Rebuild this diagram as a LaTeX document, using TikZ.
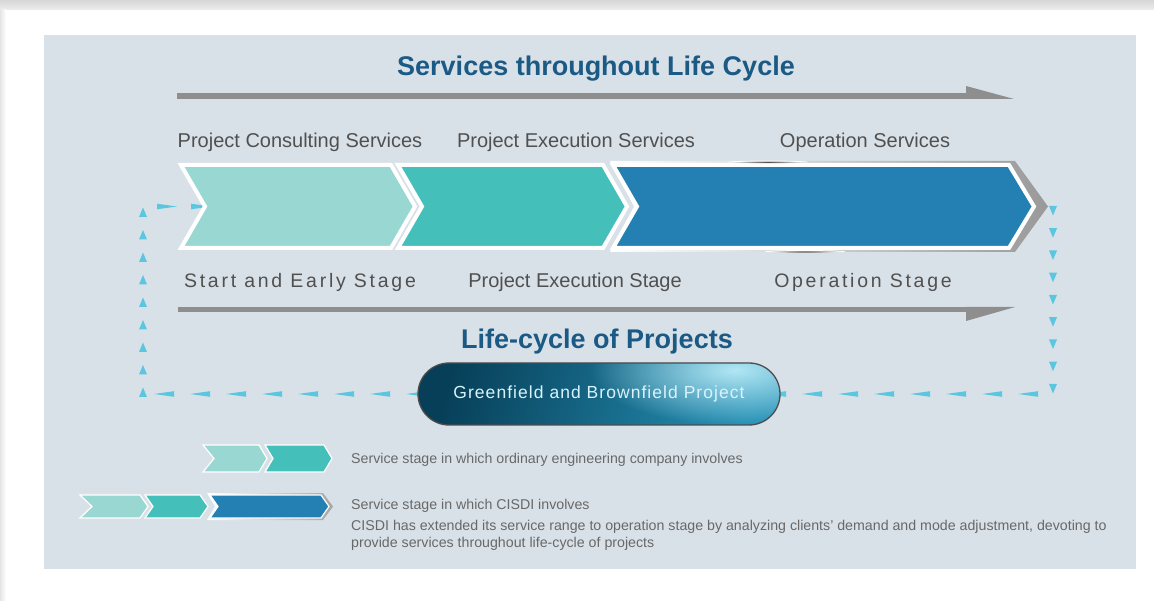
\documentclass[tikz,border=0pt]{standalone}
\usepackage{fontspec}
\setmainfont{Liberation Sans}
\newfontfamily\spacedfont[LetterSpace=14]{Liberation Sans}
\newfontfamily\pillfont[LetterSpace=6]{Liberation Sans}
\usetikzlibrary{shapes.misc,decorations.markings,fadings}
\definecolor{panel}{HTML}{D9E1E8}
\definecolor{titleblue}{HTML}{1A5A85}
\definecolor{labgray}{HTML}{505050}
\definecolor{legtxt}{HTML}{686868}
\definecolor{chA}{HTML}{99D7D3}
\definecolor{chB}{HTML}{45BFB9}
\definecolor{chC}{HTML}{2480B3}
\definecolor{arrgray}{HTML}{8E8E8E}
\definecolor{dashc}{HTML}{5AC6DF}
\definecolor{pillD}{HTML}{073F58}
\definecolor{pillM}{HTML}{17789B}
\definecolor{pillR}{HTML}{2590B5}
\definecolor{pillL}{HTML}{B2E7F5}
\tikzfading[name=glow, inner color=transparent!0, outer color=transparent!100]
\begin{document}
\begin{tikzpicture}[x=1pt,y=-1pt,
  chevbig/.style={line width=4pt, draw=white, line join=miter},
  chevsmall/.style={line width=1.2pt, draw=white, line join=miter},
  titletext/.style={font=\fontsize{27}{30}\selectfont\bfseries, text=titleblue, inner sep=0pt, anchor=base},
  svc/.style={font=\fontsize{20}{23}\selectfont, text=labgray, inner sep=0pt, anchor=base},
  stg/.style={font=\spacedfont\fontsize{19.5}{22}\selectfont, text=labgray, inner sep=0pt, anchor=base},
  legend/.style={font=\fontsize{14.2}{17}\selectfont, text=legtxt, inner sep=0pt, anchor=base west, align=left},
  pilltext/.style={rounded rectangle, minimum width=362pt, minimum height=62pt, inner sep=0pt,
    text=white!85!cyan, font=\pillfont\fontsize{17.5}{20}\selectfont},
  vmarks/.style={decorate, decoration={markings, mark=between positions 0 and 1 step #1 with {\fill[dashc] (9.5pt,0pt) -- (0pt,4pt) -- (0pt,-4pt) -- cycle;}}},
  hmarks/.style={decorate, decoration={markings, mark=between positions 0 and 1 step #1 with {\fill[dashc] (20pt,0pt) -- (0pt,2.8pt) -- (0pt,-2.8pt) -- cycle;}}}
]
\useasboundingbox (0,0) rectangle (1154,601);
% frame
\fill[white] (0,0) rectangle (1154,601);
\shade[top color=black!16, bottom color=black!7] (0,0) rectangle (1154,10);
\shade[left color=black!10, right color=white] (0,10) rectangle (6,601);
\fill[panel] (44,35) rectangle (1136,569);

% title and top arrow
\node[titletext] (title) at (596,76) {Services throughout Life Cycle};
\fill[arrgray] (177,93.5) rectangle (968,99);
\fill[arrgray] (966,86) -- (1014,99) -- (966,99) -- cycle;

% service labels
\node[svc] (s1) at (300,147.5) {Project Consulting Services};
\node[svc] (s2) at (576,147.5) {Project Execution Services};
\node[svc] (s3) at (865,147.5) {Operation Services};

% dashed loop (drawn first, pill covers its ends)
\coordinate (rtop) at (1053,206);
\coordinate (rbot) at (1053,400);
\coordinate (brs) at (1038,394);
\coordinate (bls) at (426,394);
\coordinate (lbot) at (143,397);
\coordinate (ltop) at (143,206);
\coordinate (tls) at (157,206.5);
\coordinate (c1notch) at (205,206.5);
\path[vmarks=22.25pt] (rtop) -- (rbot);
\path[hmarks=36pt] (brs) -- (781,394);
\path[hmarks=36pt] (bls) -- (150,394);
\path[vmarks=22.5pt] (lbot) -- (ltop);
\path[hmarks=34pt] (tls) -- (c1notch);

% chevrons
\shade[left color=white, right color=black!40] (610,161) -- (1015,161) -- (1048,206.5) -- (1015,252) -- (610,252) -- (634,206.5) -- cycle;
\fill[chA, chevbig] (181,165) -- (391,165) -- (415,206.5) -- (391,248) -- (181,248) -- (205,206.5) -- cycle;
\fill[chB, chevbig] (398,165) -- (603,165) -- (627,206.5) -- (603,248) -- (398,248) -- (422,206.5) -- cycle;
\fill[chC, chevbig] (613,165) -- (1009,165) -- (1034,206.5) -- (1009,248) -- (613,248) -- (637,206.5) -- cycle;
\coordinate (c3tip) at (1034,206.5);
\shade[inner color=black!70, outer color=white] (768,162) ellipse (40pt and 1.4pt);
\shade[inner color=black!70, outer color=white] (805,251.5) ellipse (40pt and 1.4pt);

% stage labels and bottom arrow
\node[stg] (g1) at (300,288) {Start and Early Stage};
\node[svc] (g2) at (575,288) {Project Execution Stage};
\node[stg] (g3) at (863,288) {Operation Stage};
\fill[arrgray] (178,307) rectangle (968,312);
\fill[arrgray] (966,321) -- (1015,307) -- (966,307) -- cycle;

\node[titletext] (life) at (597,349) {Life-cycle of Projects};

% pill
\shade[rounded corners=31pt, left color=pillD, middle color=pillM, right color=pillR, shading angle=75] (418,363) rectangle (780,425);
\begin{scope}
  \clip[rounded corners=31pt] (418,363) rectangle (780,425);
  \fill[pillL, path fading=glow] (590,315) rectangle (880,425);
\end{scope}
\draw[rounded corners=31pt, draw=black!70, line width=1.3pt] (418,363) rectangle (780,425);
\node[pilltext] (pill) at (599,394) {Greenfield and Brownfield Project};

% legend row 1
\fill[chA, chevsmall] (203,445) -- (259,445) -- (267,458.5) -- (259,472) -- (203,472) -- (214,458.5) -- cycle;
\fill[chB, chevsmall] (265,445) -- (324,445) -- (332,458.5) -- (324,472) -- (265,472) -- (273,458.5) -- cycle;
\node[legend] (l1) at (351,464) {Service stage in which ordinary engineering company involves};

% legend row 2
\shade[left color=white, right color=black!35] (207,493) -- (323,493) -- (333,506.5) -- (323,520) -- (207,520) -- (215,506.5) -- cycle;
\fill[chA, chevsmall] (80,495) -- (140,495) -- (148,506.5) -- (140,518) -- (80,518) -- (92,506.5) -- cycle;
\fill[chB, chevsmall] (145,495) -- (200,495) -- (208,506.5) -- (200,518) -- (145,518) -- (153,506.5) -- cycle;
\fill[chC, chevsmall] (210,495) -- (321,495) -- (329,506.5) -- (321,518) -- (210,518) -- (218,506.5) -- cycle;
\node[legend] (l2) at (351,509) {Service stage in which CISDI involves};
\node[legend] (l3) at (351,530) {CISDI has extended its service range to operation stage by analyzing clients' demand and mode adjustment, devoting to};
\node[legend] (l4) at (351,547) {provide services throughout life-cycle of projects};
\end{tikzpicture}
\end{document}
